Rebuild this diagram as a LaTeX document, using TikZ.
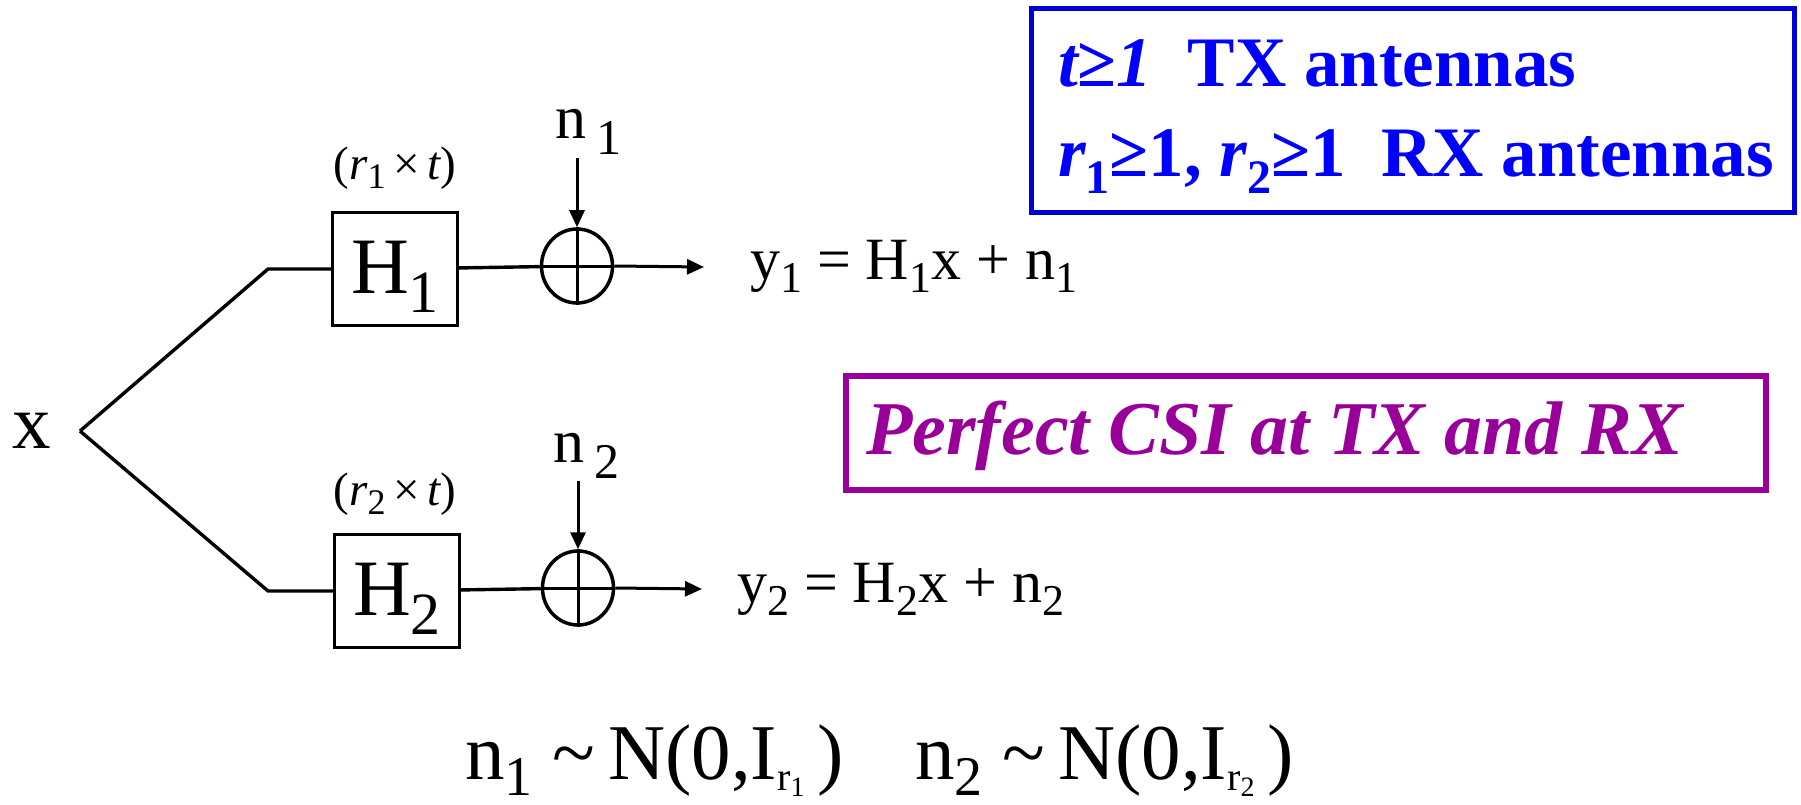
\documentclass[tikz,border=0pt]{standalone}
\usepackage{fontspec}
\setmainfont{Liberation Serif}
\usepackage{graphicx}
\usetikzlibrary{arrows.meta,shapes.geometric}
\definecolor{txblue}{RGB}{0,0,255}
\definecolor{boxblue}{RGB}{0,0,210}
\definecolor{csipurple}{RGB}{153,0,153}
\newcommand\Lo[3]{\raisebox{-#2}{\fontsize{#1}{#1}\selectfont #3}}
\begin{document}
\begin{tikzpicture}[x=1pt,y=-1pt,
  wire/.style={line width=3.4pt},
  arr/.style={line width=3pt,-{Triangle[length=17pt,width=15pt]}},
  chbox/.style={draw,line width=3.2pt,minimum width=125pt,minimum height=113pt,inner sep=0pt,text height=52pt,text depth=4pt,font={\fontsize{80}{80}\selectfont}},
  adder/.style={ellipse,draw,line width=3.5pt,minimum width=71pt,minimum height=74pt,inner sep=0pt},
  lbl/.style={inner sep=0pt,anchor=base west},
  dimlbl/.style={inner sep=0pt,anchor=base,font={\fontsize{47}{47}\selectfont}},
  eqlbl/.style={lbl,font={\fontsize{60}{60}\selectfont}},
  noiselbl/.style={lbl,font={\fontsize{79}{79}\selectfont}},
]
\useasboundingbox (0,0) rectangle (1801,805);
% input
\node[lbl,font={\fontsize{77}{77}\selectfont}] (xlab) at (12,448) {x};
\coordinate (vx) at (80,431);
\coordinate (k1) at (268,269);
\coordinate (k2) at (268,591);
% branch 1
\node[chbox] (H1) at (395,269) {H\Lo{60pt}{19pt}{1}};
\node[adder] (s1) at (577,266) {};
\draw[line width=3pt] (s1.north) -- (s1.south) (s1.west) -- (s1.east);
\node[dimlbl] (d1) at (395,180) {({\itshape r}\Lo{36pt}{9pt}{1}\,×\,{\itshape t})};
\node[lbl,font={\fontsize{62}{62}\selectfont}] (n1) at (555,139) {n\,\Lo{50pt}{16pt}{1}};
\coordinate (a1) at (577,158);
\coordinate (o1) at (704,267);
\node[eqlbl] (y1) at (750,279) {y\Lo{44pt}{13pt}{1} = H\Lo{44pt}{13pt}{1}x + n\Lo{44pt}{13pt}{1}};
% branch 2
\node[chbox] (H2) at (397,591) {H\Lo{60pt}{19pt}{2}};
\node[adder] (s2) at (578,588) {};
\draw[line width=3pt] (s2.north) -- (s2.south) (s2.west) -- (s2.east);
\node[dimlbl] (d2) at (395,505) {({\itshape r}\Lo{36pt}{9pt}{2}\,×\,{\itshape t})};
\node[lbl,font={\fontsize{62}{62}\selectfont}] (n2) at (553,462) {n\,\Lo{50pt}{16pt}{2}};
\coordinate (a2) at (578,481);
\coordinate (o2) at (702,589);
\node[eqlbl] (y2) at (737,602) {y\Lo{44pt}{13pt}{2} = H\Lo{44pt}{13pt}{2}x + n\Lo{44pt}{13pt}{2}};
% connectors
\draw[wire] (vx) -- (k1) -- (H1.west);
\draw[wire] (vx) -- (k2) -- (H2.west);
\draw[wire] (H1) -- (s1);
\draw[wire] (H2) -- (s2);
\draw[arr] (a1) -- (s1.north);
\draw[arr] (a2) -- (s2.north);
\draw[arr] (s1.east) -- (o1);
\draw[arr] (s2.east) -- (o2);
% noise statistics
\node[noiselbl] (nd1) at (465,779) {n\Lo{56pt}{16pt}{1} \textasciitilde\,N(0,I\Lo{40pt}{11pt}{r\Lo{28pt}{6pt}{1}}\,)};
\node[noiselbl] (nd2) at (915,779) {n\Lo{56pt}{16pt}{2} \textasciitilde\,N(0,I\Lo{40pt}{11pt}{r\Lo{28pt}{6pt}{2}}\,)};
% antenna box
\node[draw=boxblue,line width=5pt,minimum width=763pt,minimum height=204pt,inner sep=0pt] (abox) at (1413,110.5) {};
\node[lbl,text=txblue,font={\fontsize{71}{71}\selectfont\bfseries}] (t1) at (1058,87) {{\itshape t}≥{\itshape 1}\ \ TX antennas};
\node[lbl,text=txblue,font={\fontsize{71}{71}\selectfont\bfseries}] (t2) at (1058,177) {{\itshape r}\Lo{48pt}{17pt}{1}≥1, {\itshape r}\Lo{48pt}{17pt}{2}≥1\ \ RX antennas};
% CSI box
\node[draw=csipurple,line width=6pt,minimum width=920pt,minimum height=114pt,inner sep=0pt] (cbox) at (1306,433) {};
\node[lbl,text=csipurple,font={\fontsize{76}{76}\selectfont\bfseries\itshape}] (csi) at (866,454) {Perfect CSI at TX and RX};
\end{tikzpicture}
\end{document}
